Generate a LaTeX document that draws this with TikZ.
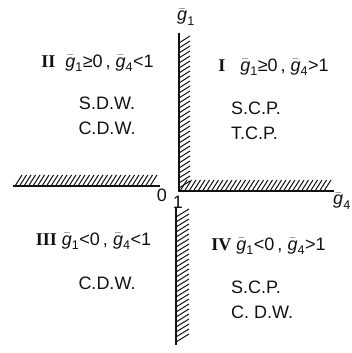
\documentclass[tikz,border=0pt]{standalone}
\usepackage{amsmath}
\usepackage{fontspec}
\setmainfont{Liberation Sans}
\newfontfamily\romfont{Liberation Serif}
\definecolor{InkBlack}{HTML}{111111}
\newcommand{\gb}[1]{$\bar{\text{\itshape g}}_{\text{#1}}$}

\begin{document}
\begin{tikzpicture}[x=1pt,y=1pt,
    axis/.style={line width=1.4pt, color=InkBlack},
    hatch/.style={line width=1pt, color=InkBlack},
    lbl/.style={font=\fontsize{18}{25}\selectfont, text=InkBlack, inner sep=0pt}]
  \useasboundingbox (0,0) rectangle (352,353);
  % axes with hatching
  \draw[axis] (13,167) -- (160,167);
  \foreach \x in {15,19.5,...,152} \draw[hatch] (\x,167) -- ++(7,11);
  \draw[axis] (178,162) -- (334,162);
  \foreach \x in {180,184.5,...,327} \draw[hatch] (\x,162) -- ++(7,11);
  \draw[axis] (179,162) -- (179,320);
  \foreach \y in {165,170,...,314} \draw[hatch] (179,\y) -- ++(11,7);
  \draw[axis] (176,8) -- (176,146);
  \foreach \y in {11,16,...,138} \draw[hatch] (176,\y) -- ++(13,8);
  \node[lbl] (g1) at (186,336) {\gb{1}};
  \node[lbl] (g4) at (342,152) {\gb{4}};
  \node[lbl] (zero) at (162,158) {0};
  \node[lbl] (one) at (178,151) {1};
  % quadrants
  \node[lbl] (q2) at (97.5,290) {{\romfont\bfseries II}\ \ \gb{1}≥0\,, \gb{4}<1};
  \node[lbl, align=center] (q2p) at (107,237.5) {S.D.W.\\C.D.W.};
  \node[lbl] (q1) at (273.5,286) {{\romfont\bfseries I}\ \ \ \gb{1}≥0\,, \gb{4}>1};
  \node[lbl, align=left, anchor=west] (q1p) at (231,232.5) {S.C.P.\\T.C.P.};
  \node[lbl] (q3) at (93.5,112) {{\romfont\bfseries III}\ \gb{1}<0\,, \gb{4}<1};
  \node[lbl] (q3p) at (107,70) {C.D.W.};
  \node[lbl] (q4) at (268.5,107) {{\romfont\bfseries IV}\ \gb{1}<0\,, \gb{4}>1};
  \node[lbl, align=left, anchor=west] (q4p) at (231,53) {S.C.P.\\C. D.W.};
\end{tikzpicture}
\end{document}
